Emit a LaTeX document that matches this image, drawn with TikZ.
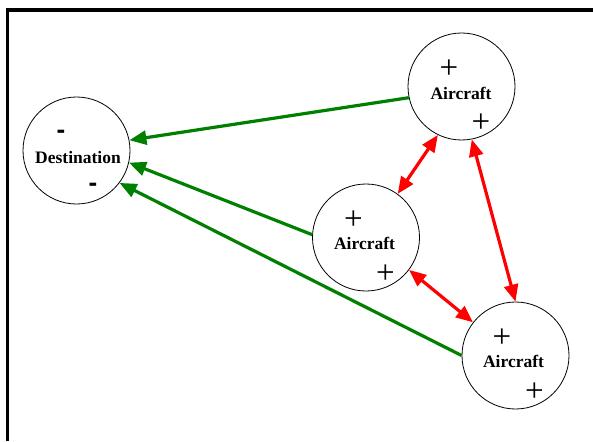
\documentclass[tikz,border=0pt]{standalone}
\usepackage{fontspec}
\setmainfont{Liberation Serif}
\setsansfont{Liberation Sans}
\usetikzlibrary{arrows.meta}
\definecolor{linkgreen}{RGB}{0,128,0}
\definecolor{pairred}{RGB}{255,0,0}
\tikzset{
  place/.style = {circle, draw, line width = 0.8pt, minimum size = 107pt, inner sep = 0pt},
  lbl/.style = {font = \fontsize{17.5}{17.5}\selectfont\bfseries, inner sep = 0pt},
  sgn/.style = {font = \fontsize{33}{33}\selectfont, inner sep = 0pt},
  neg/.style = {font = \fontsize{26}{26}\selectfont\sffamily\bfseries, inner sep = 0pt},
  link/.style = {draw = linkgreen, line width = 3.2pt, -{Triangle[length = 17pt, width = 14pt]}},
  pair/.style = {draw = pairred, line width = 3.2pt, {Triangle[length = 17pt, width = 14pt]}-{Triangle[length = 17pt, width = 14pt]}}
}

\begin{document}
\begin{tikzpicture} [x = 1pt, y = -1pt]
\useasboundingbox (0, 0) rectangle (593, 441);
\draw[line width = 3.5pt] (7.5, 441) -- (7.5, 10) -- (593, 10);
\node[place] (dest) at (76.5, 150.5){};
\node[place] (a1) at (461.5, 86.5){};
\node[place] (a2) at (366.0, 237.5){};
\node[place] (a3) at (515.5, 355.5){};
\node[lbl] (dtxt) at (78.0, 157.5){Destination};
\node[neg] (dm1) at (61.0, 134.0){-};
\node[neg] (dm2) at (93.0, 187.0){-};
\node[lbl] (t1) at (461.0, 93.0){Aircraft};
\node[sgn] (p11) at (449.0, 69.5){+};
\node[sgn] (p12) at (481.0, 123.5){+};
\node[lbl] (t2) at (364.5, 243.0){Aircraft};
\node[sgn] (p21) at (353.5, 220.5){+};
\node[sgn] (p22) at (385.5, 274.5){+};
\node[lbl] (t3) at (513.5, 361.0){Aircraft};
\node[sgn] (p31) at (502.0, 338.5){+};
\node[sgn] (p32) at (534.5, 392.0){+};
\draw[link] (a1.192) -- (dest.11);
\draw[link] (a2.177) -- (dest.-13);
\draw[link] (a3.180) -- (dest.-37);
\draw[pair] (a1.244) -- (a2.54);
\draw[pair] (a1.281) -- (a3.90);
\draw[pair] (a2.-37) -- (a3.142);
\end{tikzpicture}
\end{document}
